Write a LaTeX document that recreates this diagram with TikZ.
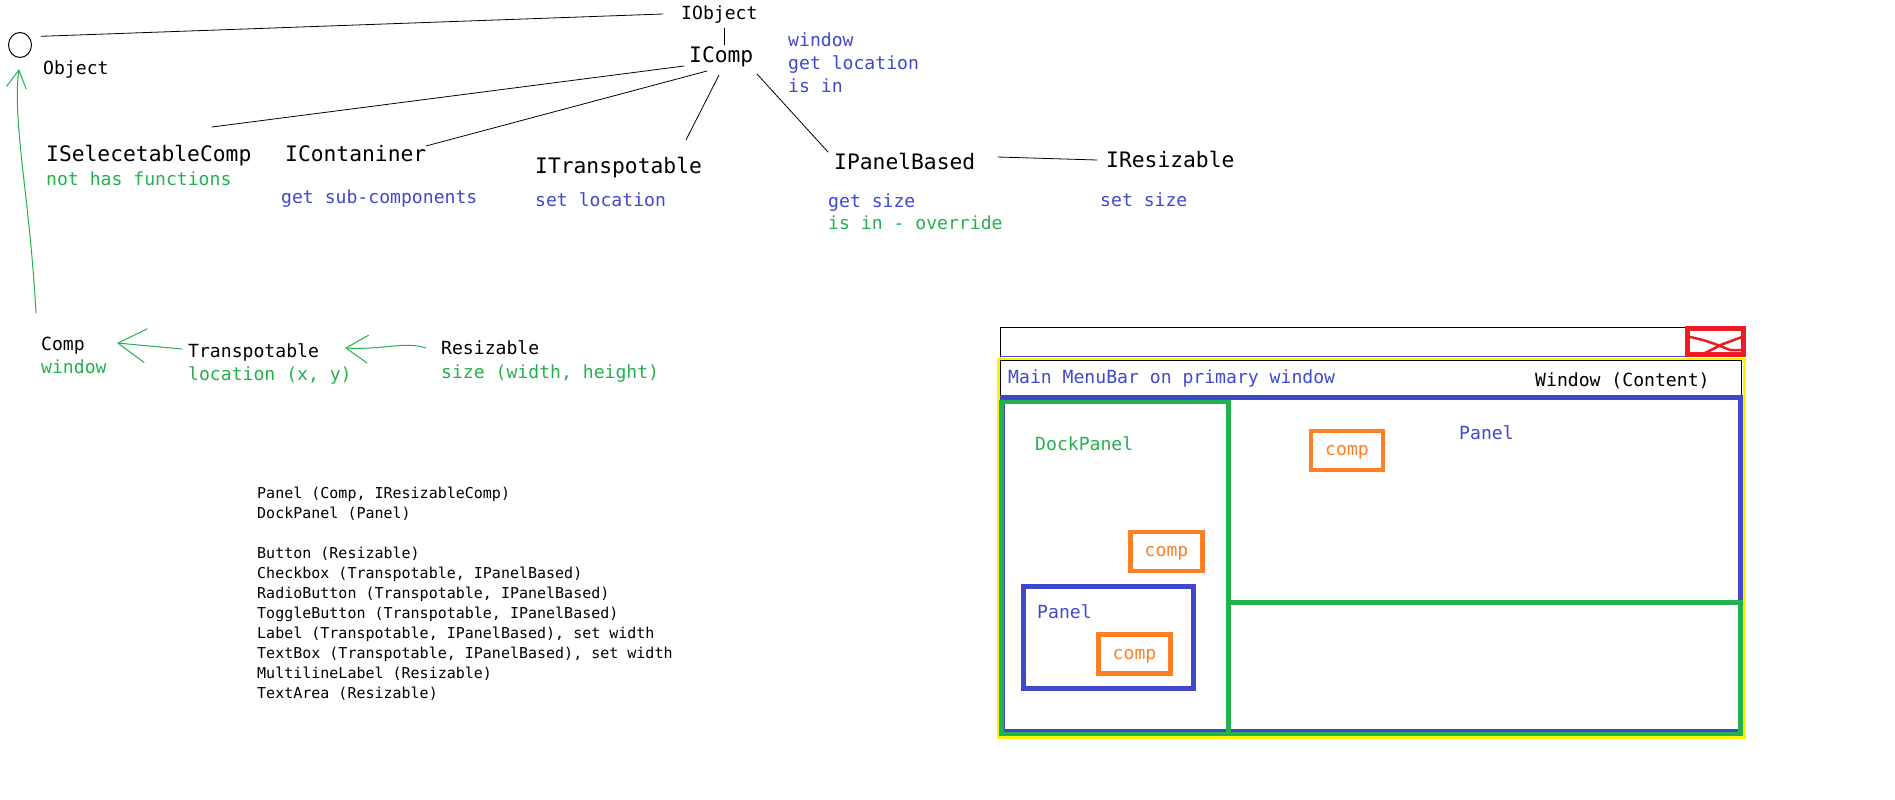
\documentclass[tikz,border=0pt]{standalone}
\usepackage{fontspec}
\setmainfont{DejaVu Sans Mono}
\usetikzlibrary{calc,arrows.meta,shapes.geometric}
\definecolor{paintblue}{RGB}{63,72,204}
\definecolor{paintgreen}{RGB}{34,177,76}
\definecolor{paintorange}{RGB}{255,127,39}
\definecolor{paintred}{RGB}{237,28,36}
\definecolor{paintyellow}{RGB}{255,242,0}

\begin{document}
\begin{tikzpicture}[x=1pt,y=-1pt,line cap=round,
  iface/.style={font=\fontsize{21.3}{26}\selectfont,anchor=base west,inner sep=0pt},
  note/.style={font=\fontsize{18.1}{23}\selectfont,anchor=base west,inner sep=0pt},
  listline/.style={font=\fontsize{15}{20}\selectfont,anchor=base west,inner sep=0pt},
  link/.style={black,line width=0.8pt},
  greenarrow/.style 2 args={paintgreen,line width=1pt,-{Straight Barb[length=#1,width=#2]}},
  compbox/.style={draw=paintorange,line width=4.5pt,text=paintorange,
    font=\fontsize{18.1}{23}\selectfont,text depth=0pt,
    minimum width=72pt,minimum height=39pt,inner sep=0pt}]
  \useasboundingbox (0,0) rectangle (1895,800);

  % ---------------- interface tree ----------------
  \node[draw,ellipse,line width=1pt,minimum width=23pt,minimum height=25pt,inner sep=0pt] (objcirc) at (20,45) {};
  \node[note] (objlabel) at (43,74.5) {Object};
  \node[note] (iobject) at (681,19.5) {IObject};
  \node[iface] (icomp) at (689,62.7) {IComp};
  \foreach \n/\txt in {0/window,1/get location,2/is in}
    \node[note,paintblue] (icompnote\n) at (788,46.5+23*\n) {\txt};

  \node[iface] (isel) at (46,161.7) {ISelecetableComp};
  \node[note,paintgreen] (iselnote) at (46,185.5) {not has functions};
  \node[iface] (icont) at (285,161.7) {IContaniner};
  \node[note,paintblue] (icontnote) at (281,203.5) {get sub-components};
  \node[iface] (itrans) at (535,173.7) {ITranspotable};
  \node[note,paintblue] (itransnote) at (535,206.5) {set location};
  \node[iface] (ipanel) at (834,169.7) {IPanelBased};
  \node[note,paintblue] (ipanelnote) at (828,207.5) {get size};
  \node[note,paintgreen] (ipaneloverride) at (828,229.5) {is in - override};
  \node[iface] (iresiz) at (1106,167.7) {IResizable};
  \node[note,paintblue] (iresiznote) at (1100,206.5) {set size};

  \draw[link] ($(objcirc.north east)+(12.5,0.5)$) -- ($(iobject.base west)+(-18,-5.5)$);
  \draw[link] ($(iobject.base west)+(43,8.5)$) -- ($(icomp.base west)+(35,-17.7)$);
  \draw[link] ($(icomp.base west)+(-5,3.3)$) -- ($(isel.base west)+(166,-34.7)$);
  \draw[link] ($(icomp.base west)+(18,8.3)$) -- ($(icont.base west)+(141,-15.7)$);
  \draw[link] ($(icomp.base west)+(30,12.3)$) -- ($(itrans.base west)+(151,-33.7)$);
  \draw[link] ($(icomp.base west)+(68,11.3)$) -- ($(ipanel.base west)+(-6,-17.7)$);
  \draw[link] ($(ipanel.base west)+(164,-12.7)$) -- ($(iresiz.base west)+(-9,-7.7)$);

  % ---------------- class chain ----------------
  \node[note] (comp) at (41,350.5) {Comp};
  \node[note,paintgreen] (compnote) at (41,373.5) {window};
  \node[note] (trans) at (188,357.5) {Transpotable};
  \node[note,paintgreen] (transnote) at (188,380.5) {location (x, y)};
  \node[note] (resiz) at (441,354.5) {Resizable};
  \node[note,paintgreen] (resiznote) at (441,378.5) {size (width, height)};

  \draw[greenarrow={18pt}{20pt}] ($(comp.base west)+(-5,-37.5)$)
    .. controls (30,200) and (12,120) .. ($(objcirc.south)+(-1,11)$);
  \draw[greenarrow={28pt}{34pt}] ($(trans.base west)+(-6,-8.5)$) -- ($(comp.base west)+(76,-7.5)$);
  \draw[greenarrow={22pt}{28pt}] ($(resiz.base west)+(-15,-6.5)$)
    .. controls (405,341) and (385,350) .. ($(trans.base west)+(157,-9.5)$);

  % ---------------- class list ----------------
  \foreach \n/\txt in {0/{Panel (Comp, IResizableComp)},1/{DockPanel (Panel)},
      3/{Button (Resizable)},4/{Checkbox (Transpotable, IPanelBased)},
      5/{RadioButton (Transpotable, IPanelBased)},6/{ToggleButton (Transpotable, IPanelBased)},
      7/{Label (Transpotable, IPanelBased), set width},8/{TextBox (Transpotable, IPanelBased), set width},
      9/{MultilineLabel (Resizable)},10/{TextArea (Resizable)}}
    \node[listline] (cls\n) at (257,498.4+20*\n) {\txt};

  % ---------------- window mock-up ----------------
  % title bar and close button
  \draw[black,line width=1pt] (1000,357) -- (1000,327.5) -- (1686,327.5);
  \draw[paintblue,line width=1pt] (1000,356) -- (1686,356);
  \draw[paintred,line width=5pt] (1687.5,328.5) rectangle (1743.5,354.5);
  \draw[paintred,line width=2.5pt] (1690,337) -- (1703,340) -- (1715,344) -- (1730,350) -- (1742,350);
  \draw[paintred,line width=2.5pt] (1742,337) -- (1723,344) -- (1703,354);
  % frame, menu bar, panels
  \draw[paintyellow,line width=3pt] (998.5,359.5) rectangle (1744.5,737.5);
  \draw[black,line width=1pt] (1000.5,360.5) rectangle (1741,397);
  \draw[paintblue,line width=5pt] (1002,397.5) rectangle (1740,731);
  \draw[paintgreen,line width=4.5pt] (1001.5,402) rectangle (1228.5,734);
  \draw[paintgreen,line width=4.5pt] (1228.5,602.5) rectangle (1740.5,734);
  \draw[paintblue,line width=5pt] (1023.5,586.5) rectangle (1193.5,688.5);

  \node[note,paintblue] (menubar) at (1008,383.5) {Main MenuBar on primary window};
  \node[note] (wincontent) at (1535,386.5) {Window (Content)};
  \node[note,paintgreen] (docklabel) at (1035,450.5) {DockPanel};
  \node[note,paintblue] (panellabel) at (1459,439.5) {Panel};
  \node[note,paintblue] (innerpanellabel) at (1037,618.5) {Panel};
  \node[compbox] (comp1) at (1347,450.5) {comp};
  \node[compbox] (comp2) at (1166.5,551.5) {comp};
  \node[compbox] (comp3) at (1134.5,654) {comp};
\end{tikzpicture}
\end{document}
